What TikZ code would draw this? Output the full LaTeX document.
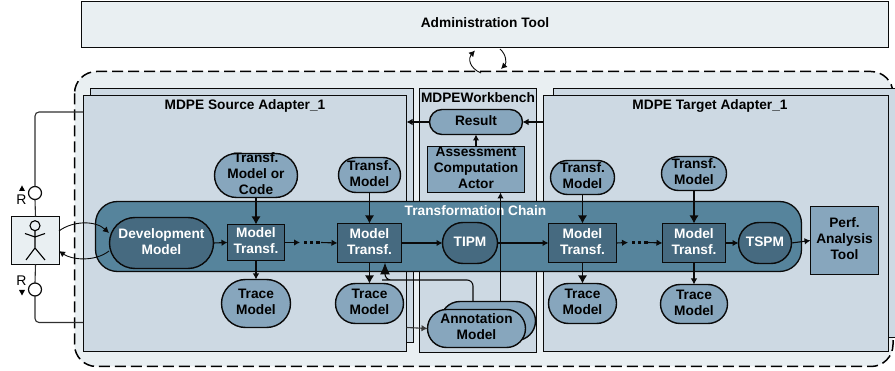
\documentclass[tikz,border=0pt]{standalone}
\usepackage{fontspec}
\setmainfont{Liberation Sans}
\usetikzlibrary{arrows.meta,shapes.misc}
\definecolor{lightbg}{HTML}{E9EFF2}
\definecolor{adapter}{HTML}{CDD9E3}
\definecolor{chainc}{HTML}{56849C}
\definecolor{darkc}{HTML}{466A80}
\definecolor{midc}{HTML}{87A6BD}
\definecolor{linec}{HTML}{0A0A0A}
\newcommand{\tx}[1]{\hbox to 0pt{\hss\vbox to 0pt{\vss\hbox{\raisebox{-1.2pt}{\begin{tabular}{@{}c@{}}#1\end{tabular}}}\vss}\hss}}
\tikzset{
  x=1pt,y=-1pt,
  every node/.style={font=\fontsize{13.7}{16}\selectfont\bfseries,inner sep=0pt,outer sep=0pt},
  rectbox/.style={draw=linec,line width=1.5pt,rectangle},
  adapterbox/.style={rectbox,fill=adapter},
  pill/.style={draw=linec,line width=1.4pt,rounded rectangle,fill=midc},
  darkpill/.style={pill,fill=darkc,text=white},
  darkbox/.style={rectbox,fill=darkc,text=white},
  midbox/.style={rectbox,fill=midc},
  conn/.style={draw=linec,line width=1.1pt,-{Latex[length=6pt,width=6.5pt]}},
  bigconn/.style={draw=linec,line width=1.1pt,-{Latex[length=8pt,width=9pt]}},
  wire/.style={draw=linec!85!white,line width=1.1pt},
  dotsline/.style={draw=linec,line width=3pt,dash pattern=on 3.2pt off 3pt},
  ring/.style={circle,draw=linec,line width=1.2pt,fill=white,minimum size=13pt},
}
\newcommand{\bx}[7]{\node[#1,minimum width=#5-#4,minimum height=#7-#6] (#2) at ({(#4+#5)/2},{(#6+#7)/2}) {#3};}
\begin{document}
\begin{tikzpicture}
\useasboundingbox (0,0) rectangle (895,371);
% outer
\draw[fill=lightbg,draw=black,line width=1.5pt,dash pattern=on 11pt off 5pt,rounded corners=22pt] (74.5,71.5) rectangle (893,366.5);
\bx{rectbox,fill=lightbg}{admin}{\tx{Administration Tool}}{81.5}{888.5}{1.5}{47.5}
% adapters back
\bx{adapterbox}{srcback}{}{90.5}{413.5}{88.5}{342.5}
\bx{adapterbox}{tgtback}{}{553.5}{900}{88.5}{337.5}
\bx{adapterbox}{src}{}{83.5}{406.5}{95.5}{351.5}
\bx{adapterbox}{wb}{}{419.5}{536.5}{88.5}{352.5}
\bx{adapterbox}{tgt}{}{543.5}{888.5}{95.5}{351.5}
\node (srclabel) at (245,106) {MDPE Source Adapter\_1};
\node (wblabel) at (478,98) {MDPEWorkbench};
\node (tgtlabel) at (710,105.5) {MDPE Target Adapter\_1};
% chain
\draw[fill=chainc,draw=linec,line width=1.3pt,rounded corners=22pt] (95.5,201.5) rectangle (801.5,271.5);
\node[text=white] (chainlabel) at (475.5,211) {Transformation Chain};
% nodes
\bx{darkpill}{dev}{\tx{Development\\Model}}{109.5}{213.5}{217.5}{268.5}
\bx{darkbox}{mone}{\tx{Model\\Transf.}}{227.5}{284.5}{224.5}{260.5}
\bx{darkbox}{mtwo}{\tx{Model\\Transf.}}{337.5}{401.5}{223.5}{262.5}
\bx{darkpill}{tipm}{\tx{TIPM}}{442.5}{497.5}{222.5}{263.5}
\bx{darkbox}{mthree}{\tx{Model\\Transf.}}{548.5}{616.5}{223.5}{262.5}
\bx{darkbox}{mfour}{\tx{Model\\Transf.}}{662.5}{725.5}{223.5}{262.5}
\bx{darkpill}{tspm}{\tx{TSPM}}{738.5}{791.5}{222.5}{263.5}
\bx{midbox}{perf}{\tx{Perf.\\Analysis\\Tool}}{810.5}{878.5}{206.5}{274.5}
\bx{pill}{tone}{\tx{Transf.\\Model or\\Code}}{214.5}{297.5}{153.5}{197.5}
\bx{pill}{ttwo}{\tx{Transf.\\Model}}{338.5}{400.5}{157.5}{192.5}
\bx{pill}{tthree}{\tx{Transf.\\Model}}{550.5}{614.5}{160.5}{194.5}
\bx{pill}{tfour}{\tx{Transf.\\Model}}{661.5}{726.5}{156.5}{190.5}
\bx{pill}{trone}{\tx{Trace\\Model}}{221.5}{290.5}{279.5}{327.5}
\bx{pill}{trtwo}{\tx{Trace\\Model}}{335.5}{403.5}{283.5}{323.5}
\bx{pill}{trthree}{\tx{Trace\\Model}}{548.5}{616.5}{283.5}{323.5}
\bx{pill}{trfour}{\tx{Trace\\Model}}{660.5}{727.5}{284.5}{323.5}
\bx{pill}{result}{\tx{Result}}{429.5}{522.5}{109.5}{134.5}
\bx{midbox}{assess}{\tx{Assessment\\Computation\\Actor}}{427.5}{524.5}{146.5}{192.5}
\bx{pill}{annback}{}{440.5}{535.5}{301.5}{340.5}
\bx{pill}{ann}{\tx{Annotation\\Model}}{427.5}{525.5}{309.5}{347.5}
% actor
\bx{rectbox,fill=lightbg}{actor}{}{11.5}{59.5}{216.5}{264.5}
\node[circle,draw=black,line width=1.1pt,minimum size=10pt] (head) at (35,225.7) {};
\coordinate (hip) at (35,248);
\draw[line width=1.1pt] (head.south) -- (hip) (25,233.5) -- (35,237) -- (45,233.5) (26,260) -- (hip) -- (45,260);
% R interfaces
\node[ring] (rup) at (35,193) {};
\node[ring] (rdown) at (35,289.5) {};
\coordinate (srcup) at (83,112);
\coordinate (srcdown) at (83,322.5);
\draw[wire,rounded corners=4pt] (rup.north) |- (srcup);
\draw[wire,rounded corners=4pt] (rdown.south) |- (srcdown);
\draw[wire] (actor.north) -- (rup.south);
\draw[wire] (actor.south) -- (rdown.north);
\node[font=\fontsize{14}{16}\selectfont] (rtop) at (21.5,199.5) {R};
\node[font=\fontsize{14}{16}\selectfont] (rbot) at (21.5,281) {R};
\fill (22,185.5) coordinate (ta) -- (25,191) -- (19,191) -- cycle;
\fill (22,295.5) coordinate (tb) -- (25,290) -- (19,290) -- cycle;
% actor curves
\coordinate (aout) at (59,231);
\coordinate (aback) at (59,251);
\coordinate (devin) at (109,233);
\coordinate (devout) at (109,251);
\draw[conn,line width=.9pt] (aout) .. controls (72,221) and (95,220) .. (devin);
\draw[conn,line width=.9pt] (devout) .. controls (95,262) and (72,260) .. (aback);
% admin curves
\coordinate (ca) at (481,73);
\coordinate (cb) at (475,50.5);
\coordinate (cc) at (500,49);
\coordinate (cd) at (501,69);
\draw[conn,line width=.9pt] (ca) .. controls (469,68) and (468,58) .. (cb);
\draw[conn,line width=.9pt] (cc) .. controls (506,54) and (507,63) .. (cd);
% main flow
\coordinate (dotaend) at (300,242.5);
\coordinate (dotastart) at (304,243);
\coordinate (dotbstart) at (322,243);
\coordinate (dotbend) at (321,242.5);
\coordinate (dotc) at (628,242.5);
\coordinate (dotd) at (662,242.5);
\draw[conn] (dev.east) -- (mone.west);
\draw[conn] (mone.east) -- (dotaend);
\draw[dotsline] (dotastart) -- (dotbstart);
\draw[conn] (dotbend) -- (mtwo.west);
\draw[conn] (mtwo.east) -- (tipm.west);
\draw[conn] (tipm.east) -- (mthree.west);
\draw[conn] (mthree.east) -- (dotc);
\draw[dotsline] (632,243) coordinate (dote) -- (650,243) coordinate (dotf);
\draw[conn] (648,242.5) coordinate (dotg) -- (mfour.west);
\draw[conn] (mfour.east) -- (tspm.west);
\draw[conn] (tspm.east) -- (perf.west);
\draw[bigconn] (tone.south) -- (mone.north);
\draw[bigconn] (ttwo.south) -- (mtwo.north);
\draw[bigconn] (tthree.south) -- (mthree.north);
\draw[bigconn] (tfour.south) -- (mfour.north);
\draw[conn] (mone.south) -- (trone.north);
\draw[bigconn] (mtwo.south) -- (trtwo.north);
\draw[bigconn] (mthree.south) -- (trthree.north);
\draw[conn] (mfour.south) -- (trfour.north);
% workbench links
\coordinate (rightsrc) at (406.5,122);
\coordinate (lefttgt) at (543.5,122);
\draw[conn] (result.west) -- (rightsrc);
\draw[conn] (lefttgt) -- (result.east);
\draw[conn] (assess.north) -- (result.south);
\coordinate (annv) at (500.5,301);
\coordinate (assessin) at (500.5,192.5);
\draw[conn] (annv) -- (assessin);
\coordinate (anna) at (473,301);
\coordinate (mtwob) at (385,262.5);
\draw[draw=linec,line width=1.1pt,rounded corners=6pt,-{Latex[length=12pt,width=10pt]}] (anna) |- (388,280) -- (385,280) -- (mtwob);
\coordinate (srcright) at (406.5,327.5);
\draw[conn,draw=linec!80!white] (srcright) -- (ann.west);
\end{tikzpicture}
\end{document}
